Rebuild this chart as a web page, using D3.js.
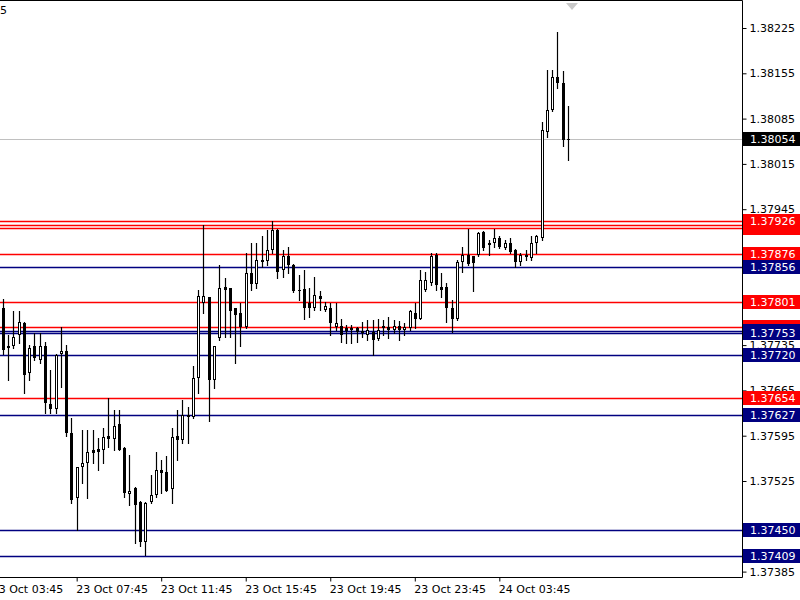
<!DOCTYPE html>
<html>
<head>
<meta charset="utf-8">
<script src="https://cdn.jsdelivr.net/npm/d3@7"></script>
<style>
  body { margin: 0; background: #fff; }
</style>
</head>
<body>
<div id="chart"></div>
<script>
// 15 minute bars, the first one is 23 Oct 04:15
const firstBar = Date.UTC(2017, 9, 23, 4, 15);
const barMinutes = 15;

const opens = [1.37792,1.37734,1.37733,1.37751,1.37769,1.37692,1.37733,1.37712,1.37734,1.37644,
  1.37637,1.37721,1.37726,1.37599,1.37498,1.37547,1.37553,1.37573,1.37574,1.37573,
  1.37595,1.37590,1.37613,1.37576,1.37505,1.37514,1.37493,1.37431,1.37493,1.37503,
  1.37542,1.37539,1.37512,1.37595,1.37588,1.37627,1.37624,1.37684,1.37800,1.37809,
  1.37681,1.37746,1.37825,1.37823,1.37792,1.37785,1.37763,1.37846,1.37830,1.37867,
  1.37865,1.37882,1.37913,1.37851,1.37872,1.37859,1.37820,1.37821,1.37800,1.37792,
  1.37811,1.37789,1.37792,1.37763,1.37765,1.37761,1.37758,1.37761,1.37757,1.37751,
  1.37756,1.37744,1.37761,1.37763,1.37759,1.37765,1.37758,1.37761,1.37785,1.37776,
  1.37820,1.37831,1.37874,1.37825,1.37825,1.37792,1.37776,1.37864,1.37874,1.37872,
  1.37874,1.37910,1.37892,1.37892,1.37900,1.37885,1.37892,1.37882,1.37864,1.37874,
  1.37869,1.37892,1.37900,1.38065,1.38098,1.38149,1.38140,1.38052];
const highs = [1.37806,1.37751,1.37787,1.37787,1.37771,1.37735,1.37753,1.37753,1.37740,1.37697,
  1.37722,1.37763,1.37735,1.37622,1.37547,1.37604,1.37604,1.37604,1.37591,1.37607,
  1.37653,1.37635,1.37635,1.37578,1.37565,1.37515,1.37494,1.37492,1.37534,1.37570,
  1.37558,1.37563,1.37607,1.37635,1.37650,1.37640,1.37702,1.37820,1.37921,1.37810,
  1.37734,1.37859,1.37838,1.37824,1.37793,1.37800,1.37877,1.37892,1.37892,1.37903,
  1.37913,1.37926,1.37914,1.37882,1.37887,1.37861,1.37843,1.37851,1.37823,1.37841,
  1.37818,1.37802,1.37800,1.37800,1.37776,1.37766,1.37766,1.37763,1.37771,1.37774,
  1.37774,1.37776,1.37774,1.37778,1.37774,1.37772,1.37769,1.37790,1.37800,1.37851,
  1.37848,1.37877,1.37877,1.37846,1.37831,1.37805,1.37867,1.37887,1.37915,1.37873,
  1.37909,1.37911,1.37897,1.37915,1.37903,1.37897,1.37900,1.37883,1.37877,1.37882,
  1.37903,1.37905,1.38080,1.38160,1.38160,1.38219,1.38158,1.38105];
const lows = [1.37722,1.37681,1.37731,1.37738,1.37661,1.37681,1.37712,1.37708,1.37630,1.37630,
  1.37630,1.37671,1.37594,1.37491,1.37449,1.37522,1.37498,1.37553,1.37542,1.37553,
  1.37578,1.37573,1.37573,1.37501,1.37488,1.37429,1.37424,1.37411,1.37491,1.37501,
  1.37506,1.37509,1.37491,1.37558,1.37583,1.37583,1.37622,1.37661,1.37784,1.37617,
  1.37668,1.37743,1.37748,1.37748,1.37707,1.37733,1.37761,1.37820,1.37823,1.37856,
  1.37859,1.37877,1.37838,1.37841,1.37846,1.37817,1.37805,1.37776,1.37779,1.37789,
  1.37789,1.37787,1.37751,1.37758,1.37740,1.37738,1.37738,1.37740,1.37748,1.37743,
  1.37720,1.37743,1.37751,1.37746,1.37753,1.37743,1.37751,1.37758,1.37761,1.37775,
  1.37818,1.37828,1.37820,1.37810,1.37771,1.37756,1.37774,1.37848,1.37859,1.37818,
  1.37872,1.37882,1.37874,1.37887,1.37885,1.37883,1.37877,1.37856,1.37859,1.37867,
  1.37867,1.37877,1.37897,1.38057,1.38096,1.38132,1.38042,1.38021];
const closes = [1.37728,1.37731,1.37748,1.37770,1.37689,1.37730,1.37715,1.37734,1.37645,1.37637,
  1.37720,1.37726,1.37599,1.37496,1.37547,1.37553,1.37570,1.37568,1.37570,1.37593,
  1.37590,1.37610,1.37573,1.37506,1.37510,1.37488,1.37431,1.37491,1.37503,1.37542,
  1.37537,1.37510,1.37593,1.37588,1.37627,1.37624,1.37684,1.37811,1.37811,1.37681,
  1.37733,1.37823,1.37820,1.37787,1.37782,1.37763,1.37846,1.37830,1.37867,1.37864,
  1.37882,1.37913,1.37848,1.37872,1.37859,1.37818,1.37818,1.37792,1.37792,1.37813,
  1.37806,1.37795,1.37769,1.37769,1.37751,1.37757,1.37761,1.37756,1.37753,1.37758,
  1.37743,1.37758,1.37765,1.37758,1.37765,1.37758,1.37763,1.37788,1.37776,1.37836,
  1.37836,1.37873,1.37828,1.37820,1.37792,1.37776,1.37864,1.37874,1.37861,1.37862,
  1.37908,1.37885,1.37890,1.37900,1.37887,1.37893,1.37879,1.37864,1.37874,1.37871,
  1.37893,1.37903,1.38067,1.38099,1.38149,1.38140,1.38052,1.38054];

// right price scale (labels hidden behind level tags are left blank)
const priceTicks = [1.38225,1.38155,1.38085,1.38015,1.37945,1.37875,1.37805,
  1.37735,1.37665,1.37595,1.37525,1.37455,1.37385];
const hiddenTicks = [1.37875,1.37805,1.37455];
// time scale labels (every 4 hours)
const timeTicks = ["2017-10-23T03:45Z","2017-10-23T07:45Z","2017-10-23T11:45Z",
  "2017-10-23T15:45Z","2017-10-23T19:45Z","2017-10-23T23:45Z","2017-10-24T03:45Z"];

// horizontal level lines, drawn in this order (later tags cover earlier ones)
const redLevels = [1.37916,1.37921,1.37926,1.37876,1.37801,1.37763,1.37654];
const blueLevels = [1.37856,1.37757,1.37753,1.37720,1.37627,1.37450,1.37409];
// tags that sit fully under another tag
const coveredTags = [1.37916,1.37921,1.37763,1.37757];
const bid = 1.38054;

const width = 800, height = 600;
const plotRight = 742, plotBottom = 577;
const red = "#ff0000", navy = "#000080";
const font = "Tahoma, 'DejaVu Sans', sans-serif";

const svg = d3.select("#chart")
  .append("svg")
    .attr("width", width)
    .attr("height", height)
    .style("background", "#fff");

const bars = opens.map((o, i) => ({
  time: new Date(firstBar + i * barMinutes * 60000),
  open: o, high: highs[i], low: lows[i], close: closes[i]
}));

const x = d3.scaleUtc()
  .domain([bars[0].time, bars[bars.length - 1].time])
  .range([2.7, 568]);

const y = d3.scaleLinear()
  .domain([1.37385, 1.38225])
  .range([571.6, 28]);

const py = v => Math.round(y(v)) + 0.5;

// level lines
const levels = redLevels.map(v => ({v, c: red}))
  .concat(blueLevels.map(v => ({v, c: navy})));

svg.append("g")
  .selectAll("line")
  .data(levels)
  .join("line")
    .attr("x1", 0).attr("x2", plotRight)
    .attr("y1", d => py(d.v)).attr("y2", d => py(d.v))
    .attr("stroke", d => d.c)
    .attr("stroke-width", 1.4);

// bid line
svg.append("line")
  .attr("x1", 0).attr("x2", plotRight)
  .attr("y1", py(bid)).attr("y2", py(bid))
  .attr("stroke", "#c0c0c0");

// candles
const candles = svg.append("g")
  .selectAll("g")
  .data(bars)
  .join("g");

candles.append("line")
  .attr("x1", d => Math.round(x(d.time)) + 0.5)
  .attr("x2", d => Math.round(x(d.time)) + 0.5)
  .attr("y1", d => Math.round(y(d.high)))
  .attr("y2", d => Math.round(y(d.low)) + 1)
  .attr("stroke", "#000")
  .attr("stroke-width", 1.2);

candles.append("rect")
  .each(function(d) {
    const cx = Math.round(x(d.time));
    const top = Math.round(y(Math.max(d.open, d.close)));
    const bot = Math.round(y(Math.min(d.open, d.close)));
    const r = d3.select(this);
    if (d.close > d.open && bot - top >= 2) {
      r.attr("x", cx - 0.5).attr("y", top + 0.5)
       .attr("width", 2).attr("height", bot - top - 1)
       .attr("fill", "#fff").attr("stroke", "#000");
    } else {
      r.attr("x", cx - 1).attr("y", top)
       .attr("width", 3).attr("height", Math.max(bot - top, 1))
       .attr("fill", "#000");
    }
  });

// frame
svg.append("path")
  .attr("d", `M0,0.5H${plotRight + 0.5}V${plotBottom + 0.5}H0`)
  .attr("fill", "none")
  .attr("stroke", "#000");

// chart shift marker
const shiftX = x(bars[bars.length - 1].time) + 4;
svg.append("path")
  .attr("d", `M${shiftX - 6},3L${shiftX + 6},3L${shiftX},10Z`)
  .attr("fill", "#c8c8c8");

// time axis
const xAxis = svg.append("g")
  .attr("transform", `translate(0,${plotBottom + 0.5})`)
  .call(d3.axisBottom(x)
    .tickValues(timeTicks.map(d => new Date(d)))
    .tickFormat(d3.utcFormat("%d %b %H:%M"))
    .tickSize(4)
    .tickSizeOuter(0));
xAxis.select(".domain").remove();
xAxis.attr("font-family", font).attr("font-size", 11);
xAxis.selectAll("text")
  .attr("text-anchor", "start")
  .attr("x", -1)
  .attr("y", 8)
  .attr("fill", "#000");

// price axis
const yAxis = svg.append("g")
  .attr("transform", `translate(${plotRight + 0.5},0)`)
  .call(d3.axisRight(y)
    .tickValues(priceTicks)
    .tickFormat(d => hiddenTicks.includes(d) ? "" : d3.format(".5f")(d))
    .tickSize(4)
    .tickSizeOuter(0));
yAxis.select(".domain").remove();
yAxis.attr("font-family", font).attr("font-size", 11);
yAxis.selectAll("text").attr("x", 7).attr("fill", "#000");

// price tags of the levels
const tags = levels.concat([{v: bid, c: "#000"}]);
const tag = svg.append("g")
  .selectAll("g")
  .data(tags)
  .join("g")
    .attr("transform", d => `translate(${plotRight + 1},${Math.round(y(d.v))})`);
tag.append("rect")
  .attr("x", 0).attr("y", -7)
  .attr("width", width - plotRight - 1).attr("height", 14)
  .attr("fill", d => d.c);
tag.filter(d => !coveredTags.includes(d.v))
  .append("text")
    .attr("x", 7).attr("y", 4)
    .attr("fill", "#fff")
    .attr("font-family", font)
    .attr("font-size", 11)
    .text(d => d.v.toFixed(5));

// what is left of the symbol caption at the top left
svg.append("text")
  .attr("x", 0).attr("y", 14)
  .attr("font-family", font)
  .attr("font-size", 11)
  .text("5");
</script>
</body>
</html>
